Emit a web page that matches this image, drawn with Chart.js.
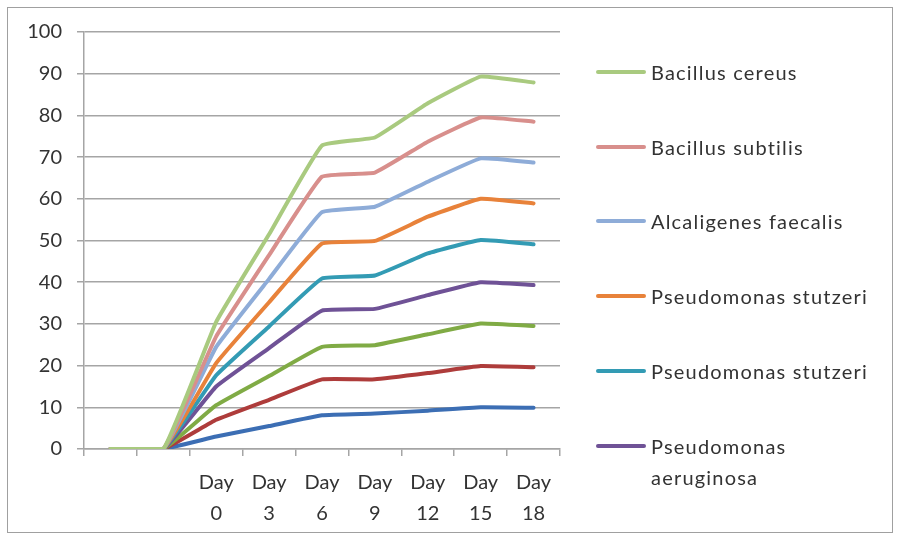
<!DOCTYPE html>
<html>
<head>
<meta charset="utf-8">
<script src="https://cdn.jsdelivr.net/npm/chart.js@4.4.1/dist/chart.umd.min.js"></script>
<style>
  html, body { margin: 0; padding: 0; background: #fff; }
  #wrap { position: relative; width: 900px; height: 540px; font-family: Lato, "Open Sans", sans-serif; }
  #frame { position: absolute; left: 7px; top: 7px; width: 884px; height: 524px; border: 1.5px solid #a0a0a0; pointer-events: none; }
  #chart-box { position: absolute; left: 0; top: 0; width: 900px; height: 540px; }
  #legend { position: absolute; left: 596px; top: 0; width: 300px; color: #333; font-size: 20px; }
  .legend-item { position: absolute; left: 0; display: flex; align-items: flex-start; width: 290px; }
  .legend-line { width: 50px; height: 4px; border-radius: 2px; margin-top: 13px; flex: none; }
  .legend-text { margin-left: 5px; line-height: 31px; letter-spacing: 1.2px; max-width: 232px; }
</style>
</head>
<body>
<div id="wrap">
  <div id="chart-box"><canvas id="chart"></canvas></div>
  <div id="legend"></div>
  <div id="frame"></div>
</div>
<script>
  const categories = ["", "", "Day 0", "Day 3", "Day 6", "Day 9", "Day 12", "Day 15", "Day 18"];
  const yTicks = [0, 10, 20, 30, 40, 50, 60, 70, 80, 90, 100];

  const bacillusCereus = [0, 0, 30.5, 51.5, 72.8, 74.7, 82.9, 89.3, 87.9];
  const bacillusSubtilis = [0, 0, 27, 46.5, 65.3, 66.3, 73.7, 79.5, 78.5];
  const alcaligenesFaecalis = [0, 0, 24.5, 40.8, 56.8, 58.1, 64.1, 69.7, 68.7];
  const stutzeriOrange = [0, 0, 20.6, 35.2, 49.3, 49.9, 55.7, 60, 58.9];
  const stutzeriTeal = [0, 0, 17.7, 29.4, 40.9, 41.6, 46.9, 50.1, 49.1];
  const aeruginosa = [0, 0, 15, 24.2, 33.2, 33.6, 36.9, 40, 39.3];
  const series7 = [0, 0, 10.5, 17.5, 24.5, 24.9, 27.5, 30.1, 29.5];
  const series8 = [0, 0, 7, 11.8, 16.7, 16.7, 18.2, 19.9, 19.6];
  const series9 = [0, 0, 3, 5.5, 8.1, 8.5, 9.2, 10, 9.9];

  // only the first six fit in the legend box in the original
  const LEGEND_COUNT = 6;

  const seriesList = [
    { label: "Bacillus cereus", data: bacillusCereus, color: "#a9ca7f" },
    { label: "Bacillus subtilis", data: bacillusSubtilis, color: "#d88f8c" },
    { label: "Alcaligenes faecalis", data: alcaligenesFaecalis, color: "#8eacd8" },
    { label: "Pseudomonas stutzeri", data: stutzeriOrange, color: "#e8823a" },
    { label: "Pseudomonas stutzeri", data: stutzeriTeal, color: "#339bb4" },
    { label: "Pseudomonas aeruginosa", data: aeruginosa, color: "#6f5296" },
    { label: "Series 7", data: series7, color: "#80ab45" },
    { label: "Series 8", data: series8, color: "#ae3c3b" },
    { label: "Series 9", data: series9, color: "#3c6eb4" },
  ];

  const GRID = "#a5a5a5";
  const FONT = { family: "Lato, 'Open Sans', sans-serif", size: 20 };

  const chart = new Chart(document.getElementById("chart"), {
    type: "line",
    data: {
      labels: categories,
      datasets: seriesList.map((s) => ({
        label: s.label,
        data: s.data,
        borderColor: s.color,
        backgroundColor: s.color,
        borderWidth: 4,
        pointRadius: 0,
        tension: 0.1,
        borderCapStyle: "round",
        borderJoinStyle: "round",
      })),
    },
    options: {
      responsive: true,
      maintainAspectRatio: false,
      animation: false,
      layout: { padding: { left: 0, top: 32, right: 340, bottom: 0 } },
      plugins: {
        legend: { display: false },
        tooltip: { enabled: false },
      },
      scales: {
        x: {
          offset: true,
          grid: { offset: true, drawOnChartArea: false, drawTicks: true, tickLength: 7, color: GRID, lineWidth: 1.5 },
          border: { color: GRID, width: 1.5 },
          ticks: {
            color: "#333",
            font: { ...FONT, lineHeight: 1.55 },
            padding: 11,
            maxRotation: 0,
            autoSkip: false,
            callback(value) {
              const text = this.getLabelForValue(value);
              return text ? text.split(" ") : "";
            },
          },
          afterFit(scale) { scale.height = 91; },
        },
        y: {
          min: 0,
          max: 100,
          afterBuildTicks(scale) { scale.ticks = yTicks.map((v) => ({ value: v })); },
          grid: { color: GRID, lineWidth: 1.5, tickLength: 7 },
          border: { color: GRID, width: 1.5 },
          ticks: { color: "#333", font: FONT, padding: 15 },
          afterFit(scale) { scale.width = 84; },
        },
      },
    },
  });

  const legendEl = document.getElementById("legend");
  const items = Chart.defaults.plugins.legend.labels.generateLabels(chart).slice(0, LEGEND_COUNT);
  items.forEach((item, i) => {
    const row = document.createElement("div");
    row.className = "legend-item";
    row.style.top = (57 + i * 74.7) + "px";
    const line = document.createElement("span");
    line.className = "legend-line";
    line.style.background = item.strokeStyle;
    const text = document.createElement("span");
    text.className = "legend-text";
    text.textContent = item.text;
    row.appendChild(line);
    row.appendChild(text);
    legendEl.appendChild(row);
  });
</script>
</body>
</html>
